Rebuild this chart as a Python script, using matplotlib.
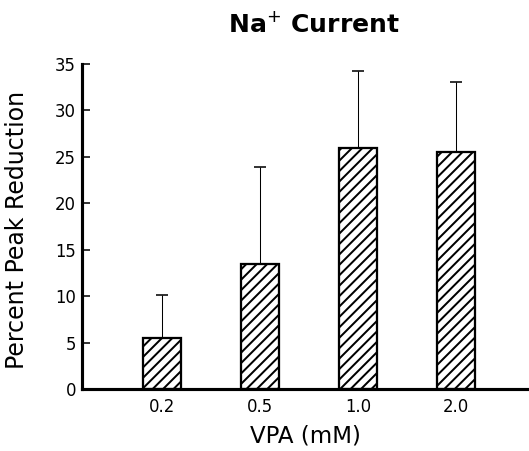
import matplotlib
matplotlib.use("Agg")
import matplotlib.pyplot as plt

# data
doses = ["0.2", "0.5", "1.0", "2.0"]
reduction = [5.5, 13.5, 26.0, 25.5]
err_top = [10.1, 23.9, 34.2, 33.1]
yticks = [0, 5, 10, 15, 20, 25, 30, 35]

upper = [t - m for t, m in zip(err_top, reduction)]
lower = [0] * len(reduction)

plt.rcParams["hatch.linewidth"] = 1.15
plt.rcParams["font.family"] = "DejaVu Sans"

fig = plt.figure(figsize=(529 / 125, 451 / 125), dpi=125)
ax = fig.add_axes([0.155, 0.1375, 0.845, 0.7205])

pos = list(range(len(doses)))
ax.bar(pos, reduction, width=0.39, color="white", edgecolor="black",
       linewidth=1.3, hatch="////", zorder=2)
ax.errorbar(pos, reduction, yerr=[lower, upper], fmt="none", ecolor="black",
            elinewidth=0.6, capsize=3.7, capthick=0.9, zorder=1)

ax.set_xlim(-0.82, 3.75)
ax.set_ylim(0, 35)
ax.set_xticks(pos)
ax.set_xticklabels(doses)
ax.set_yticks(yticks)

for s in ["top", "right"]:
    ax.spines[s].set_visible(False)
ax.spines["left"].set_linewidth(1.8)
ax.spines["bottom"].set_linewidth(1.8)

ax.tick_params(axis="y", direction="in", length=4.6, width=0.9, pad=3.5,
               labelsize=9.5)
ax.tick_params(axis="x", length=0, pad=5, labelsize=9.5)

ax.set_xlabel("VPA (mM)", fontsize=13.2, labelpad=5)
ax.set_ylabel("Percent Peak Reduction", fontsize=13.6)
ax.yaxis.set_label_coords(-0.118, 0.49)

fig.text(314 / 529, 1 - 25 / 451, r"Na$^{+}$ Current", fontsize=14.5,
         fontweight="bold", ha="center", va="center")

fig.savefig("out.png", dpi=125)
